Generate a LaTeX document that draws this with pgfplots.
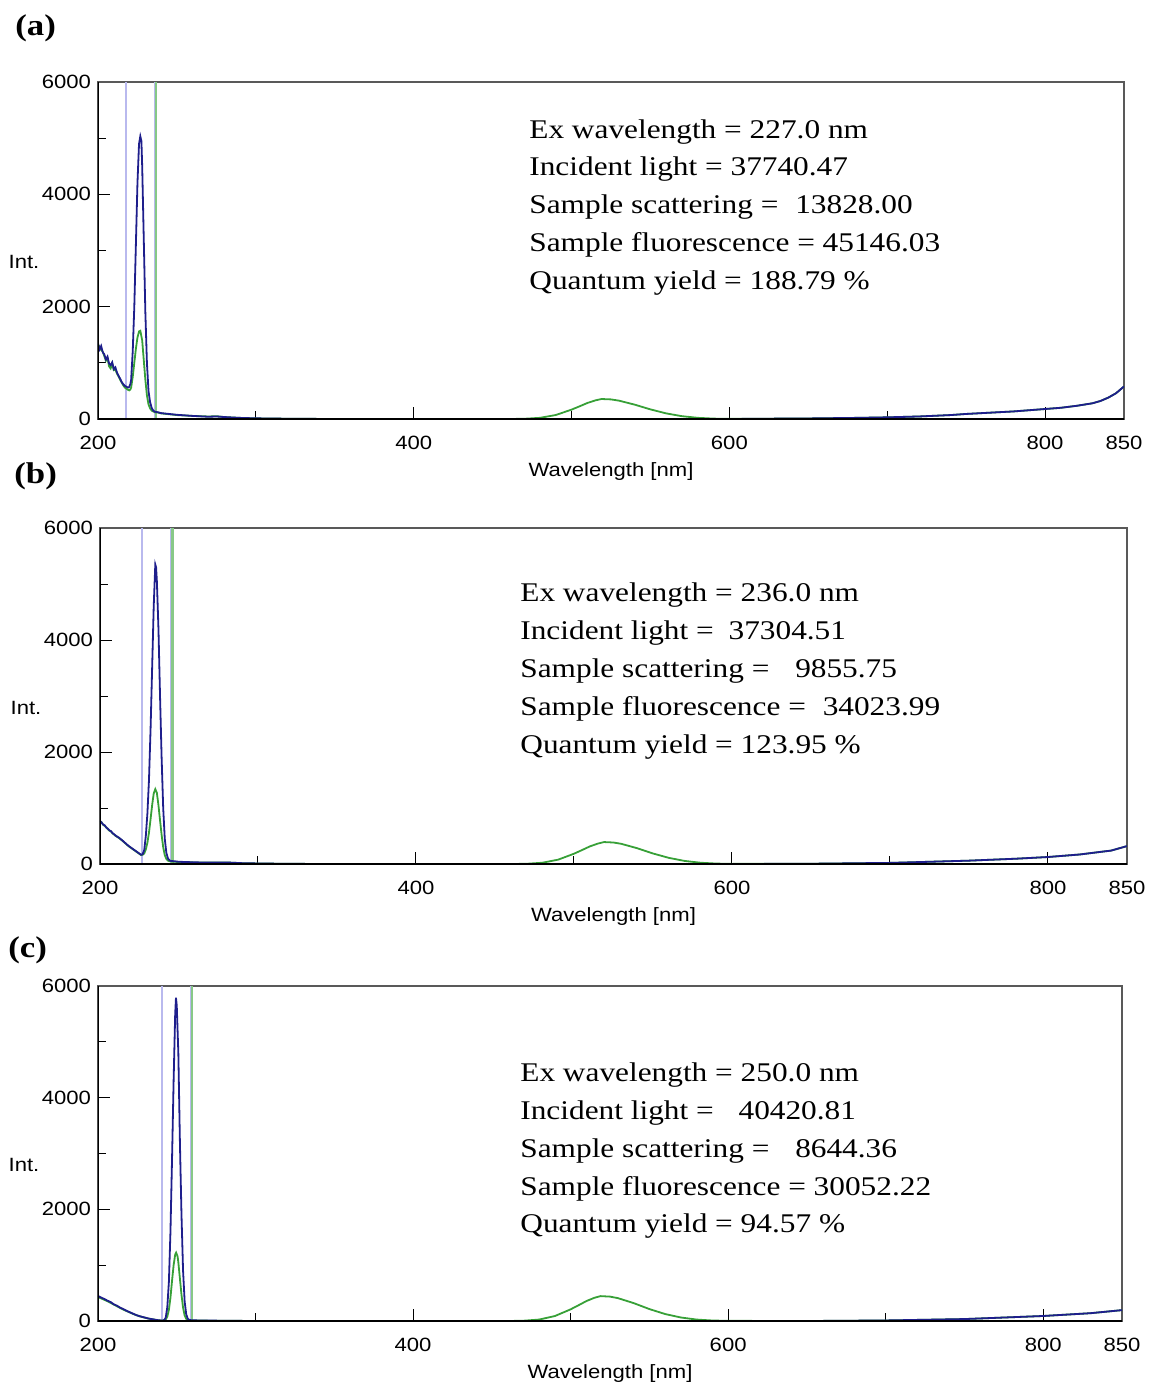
\documentclass[border=0pt]{standalone}
\usepackage{fontspec}
\setmainfont{Liberation Serif}[FakeStretch=1.16]
\setsansfont{Liberation Sans}[FakeStretch=1.15]
\usepackage{pgfplots}
\usepackage{pgfplotstable}
\pgfplotsset{compat=1.18}

\definecolor{cblue}{RGB}{30,30,140}
\definecolor{cgreen}{RGB}{55,160,55}
\definecolor{vblue}{RGB}{185,185,238}
\definecolor{vgreen}{RGB}{135,200,135}

% ---------------- panel (a) ----------------
\pgfplotstableread{
x y
200 1347
201 1240
202 1300
203 1190
204 1150
205 1060
206 1110
207 990
208 960
209 1010
210 890
211 920
212 830
213 770
214 720
215 660
216 620
217 590
218 575
219 560
219.6 565
220.5 620
221 700
222 1200
223 2000
224 3100
225 4200
226 4900
226.8 5034
227.5 4950
228 4500
229 3200
230 1900
231 1000
232 500
233 300
234 200
235 150
236 130
238 120
240 105
245 90
250 75
260 55
270 40
275 45
280 35
290 20
300 12
320 5
350 0
600 0
620 5
650 10
680 20
700 30
720 45
740 70
750 90
760 105
780 135
800 178
810 200
820 235
830 280
835 320
840 380
845 460
850 580
}\blueA
\pgfplotstableread{
x y
200 1320
201 1290
202 1230
203 1200
204 1120
205 1040
206 1090
207 940
208 900
209 990
210 870
211 880
212 810
213 760
214 700
215 650
216 600
217 560
218 540
219 520
219.8 510
220.5 525
221 560
222 750
223 1000
224 1250
225 1450
226 1560
226.8 1571
228 1400
229 1050
230 700
231 420
232 260
233 190
234 150
235 135
236 120
238 115
240 100
245 85
250 70
260 55
270 45
275 50
280 35
290 20
300 12
320 5
350 0
460 0
470 4
480 21
490 71
500 167
505 225
510 285
515 331
519 356
525 349
530 327
540 256
550 171
560 100
570 50
580 21
590 7
600 2
620 5
650 10
680 20
700 30
720 45
740 70
750 90
760 105
780 135
800 178
810 200
820 235
830 280
835 320
840 380
845 460
850 580
}\greenA

% ---------------- panel (b) ----------------
\pgfplotstableread{
x y
200 772
201 740
202 705
203 690
204 650
205 630
206 600
207 585
208 550
209 530
210 505
212 470
214 425
216 375
218 325
220 285
222 245
224 205
226 165
227 175
228 250
229 500
230 900
231 1500
232 2400
233 3500
234 4600
235 5348
235.5 5300
236 5050
237 4200
238 3000
239 1900
240 1000
241 450
242 200
243 100
244 65
245 55
250 40
260 30
270 25
280 28
290 15
300 10
320 3
350 0
600 0
650 5
700 20
750 60
780 95
800 125
820 170
840 240
850 320
}\blueB
\pgfplotstableread{
x y
200 760
201 745
202 700
203 680
204 655
205 620
206 595
207 580
208 545
209 525
210 500
212 465
214 420
216 370
218 320
220 280
222 240
224 200
226 160
227 165
228 190
229 260
230 380
231 560
232 800
233 1050
234 1260
235 1337
236 1270
237 1050
238 780
239 520
240 300
241 160
242 90
243 60
244 50
245 45
250 35
260 28
270 25
280 28
290 15
300 10
320 3
350 0
460 0
470 4
480 23
490 78
500 184
505 248
510 314
515 364
519 392
525 384
530 360
540 282
550 188
560 110
570 55
580 23
590 8
600 2
650 5
700 20
750 60
780 95
800 125
820 170
840 240
850 320
}\greenB

% ---------------- panel (c) ----------------
\pgfplotstableread{
x y
200 448
202 420
204 395
206 365
208 340
210 300
212 275
214 240
216 215
218 185
220 160
222 135
224 110
226 90
228 75
230 60
232 45
234 35
236 25
238 15
240 10
241 8
242 15
243 60
244 250
245 700
246 1600
247 2900
248 4300
249 5500
249.5 5790
250 5650
251 4800
252 3200
253 1900
254 900
255 350
256 120
257 40
258 20
259 15
260 12
280 5
300 0
650 0
700 10
750 35
800 90
830 140
850 195
}\blueC
\pgfplotstableread{
x y
200 430
202 405
204 380
206 355
208 325
210 295
212 265
214 235
216 205
218 180
220 155
222 130
224 108
226 88
228 72
230 58
232 44
234 33
236 24
238 14
240 9
241 8
243 25
244 80
245 200
246 420
247 720
248 1000
249 1190
249.6 1224
250.5 1160
251 1050
252 760
253 470
254 240
255 100
256 40
257 15
258 10
260 8
280 5
300 0
460 0
470 5
480 26
490 89
500 209
505 282
510 357
515 415
519 446
525 437
530 410
540 321
550 214
560 125
570 63
580 26
590 9
600 3
650 0
700 10
750 35
800 90
830 140
850 195
}\greenC

\pgfplotsset{
  qy/.style={
    scale only axis,
    xmin=200, xmax=850, ymin=0, ymax=6000,
    xtick={200,400,600,800,850}, xticklabels={200,400,600,800,850},
    minor xtick={300,500,700},
    ytick={0,2000,4000,6000}, yticklabels={0,2000,4000,6000},
    minor ytick={1000,3000,5000},
    scaled ticks=false,
    xtick pos=bottom, ytick pos=left, tick align=inside,
    major tick length=6pt, minor tick length=4pt,
    tick style={black, line width=0.5pt},
    axis line style={gray!70!black, line width=0.6pt},
    /pgf/number format/assume math mode=true,
    ticklabel style={font=\sffamily\fontsize{9.6}{11}\selectfont},
    xticklabel style={yshift=-5pt},
    xlabel={Wavelength [nm]}, ylabel={Int.},
    every axis x label/.style={at={(rel axis cs:0.5,0)}, anchor=center, yshift=-26.5pt,
      font=\sffamily\fontsize{9.6}{11}\selectfont},
    every axis y label/.style={at={(rel axis cs:0,0.465)}, anchor=center, xshift=-37pt,
      font=\sffamily\fontsize{9.6}{11}\selectfont},
    every axis plot/.append style={line width=0.9pt},
  },
  vl/.style={line width=1.1pt},
}

\newcommand{\ann}{\fontsize{13.5}{16}\selectfont}

\begin{document}
\begin{tikzpicture}
\path[use as bounding box] (0,0) rectangle (574pt,-691.5pt);

% ---------- (a) ----------
\begin{axis}[qy, at={(49pt,-209.5pt)}, anchor=south west, width=513pt, height=168.5pt]
\addplot[vblue, vl] coordinates {(217.5,0) (217.5,6000)};
\addplot[vblue, vl] coordinates {(236.0,0) (236.0,6000)};
\addplot[vgreen, vl] coordinates {(236.6,0) (236.6,6000)};
\addplot[cgreen] table {\greenA};
\addplot[cblue] table {\blueA};
\draw[black, line width=0.7pt] (rel axis cs:0,1) -- (rel axis cs:0,0) -- (rel axis cs:1,0);
\end{axis}

% ---------- (b) ----------
\begin{axis}[qy, at={(50pt,-432pt)}, anchor=south west, width=513.5pt, height=168pt]
\addplot[vblue, vl] coordinates {(226.5,0) (226.5,6000)};
\addplot[vblue, vl] coordinates {(245.3,0) (245.3,6000)};
\addplot[vgreen, vl] coordinates {(245.9,0) (245.9,6000)};
\addplot[cgreen] table {\greenB};
\addplot[cblue] table {\blueB};
\draw[black, line width=0.7pt] (rel axis cs:0,1) -- (rel axis cs:0,0) -- (rel axis cs:1,0);
\end{axis}

% ---------- (c) ----------
\begin{axis}[qy, at={(49pt,-660.5pt)}, anchor=south west, width=512pt, height=167.5pt]
\addplot[vblue, vl] coordinates {(240.8,0) (240.8,6000)};
\addplot[vblue, vl] coordinates {(259.2,0) (259.2,6000)};
\addplot[vgreen, vl] coordinates {(259.8,0) (259.8,6000)};
\addplot[cgreen] table {\greenC};
\addplot[cblue] table {\blueC};
\draw[black, line width=0.7pt] (rel axis cs:0,1) -- (rel axis cs:0,0) -- (rel axis cs:1,0);
\end{axis}

% panel labels
\node[anchor=west, inner sep=0, font=\bfseries\fontsize{15}{17}\selectfont] at (7.5pt,-14pt) {(a)};
\node[anchor=west, inner sep=0, font=\bfseries\fontsize{15}{17}\selectfont] at (7pt,-238pt) {(b)};
\node[anchor=west, inner sep=0, font=\bfseries\fontsize{15}{17}\selectfont] at (4pt,-475pt) {(c)};

\begin{scope}[every node/.style={anchor=base west, inner sep=0, font=\ann}]
% (a)
\node at (264.5pt,-69pt) {Ex wavelength = 227.0 nm};
\node at (264.5pt,-87.5pt) {Incident light = 37740.47};
\node at (264.5pt,-106.5pt) {Sample scattering =\hspace{4.5pt} 13828.00};
\node at (264.5pt,-125.5pt) {Sample fluorescence = 45146.03};
\node at (264.5pt,-144.5pt) {Quantum yield = 188.79 \%};
% (b)
\node at (260pt,-300.5pt) {Ex wavelength = 236.0 nm};
\node at (260pt,-319.5pt) {Incident light =\hspace{3.5pt} 37304.51};
\node at (260pt,-338.5pt) {Sample scattering =\hspace{9pt} 9855.75};
\node at (260pt,-357.5pt) {Sample fluorescence =\hspace{4.5pt} 34023.99};
\node at (260pt,-376.5pt) {Quantum yield = 123.95 \%};
% (c)
\node at (260pt,-540.5pt) {Ex wavelength = 250.0 nm};
\node at (260pt,-559.5pt) {Incident light =\hspace{8.5pt} 40420.81};
\node at (260pt,-578.5pt) {Sample scattering =\hspace{9pt} 8644.36};
\node at (260pt,-597.5pt) {Sample fluorescence = 30052.22};
\node at (260pt,-616pt) {Quantum yield = 94.57 \%};
\end{scope}
\end{tikzpicture}
\end{document}
